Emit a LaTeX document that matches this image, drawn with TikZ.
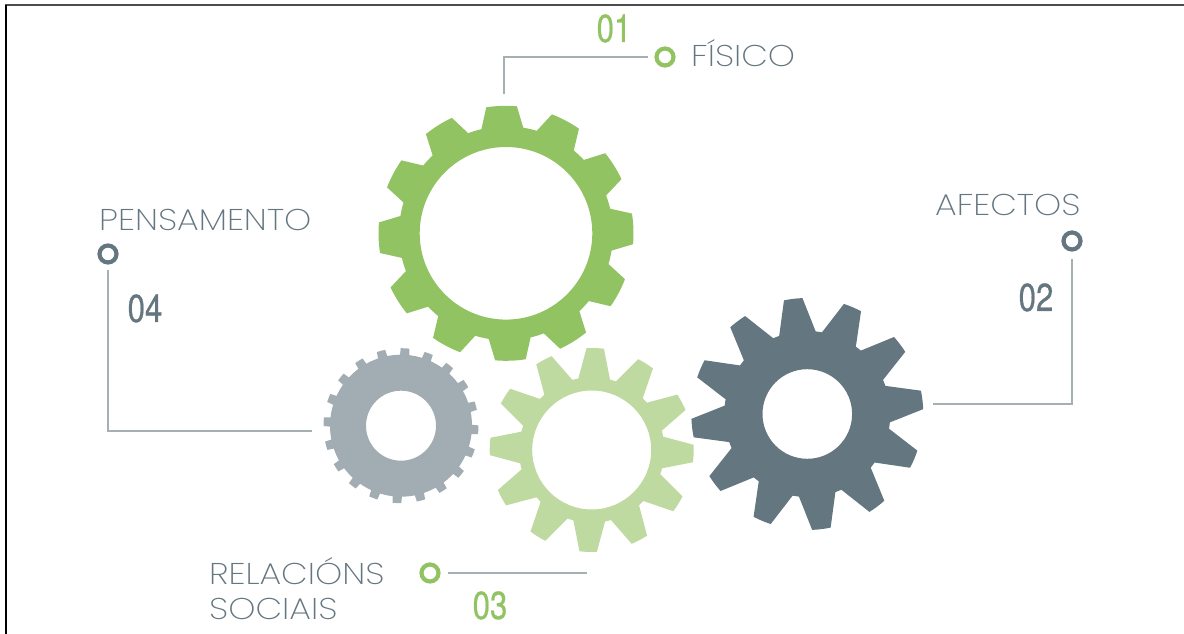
\documentclass[tikz,border=0pt]{standalone}
\usepackage{fontspec}
\setmainfont{Poppins}[UprightFont=* ExtraLight]
\newfontfamily\numfont{TeX Gyre Heros}[FakeBold=0.7]
\definecolor{gearA}{HTML}{92C362}
\definecolor{gearB}{HTML}{647680}
\definecolor{gearC}{HTML}{BEDAA0}
\definecolor{gearD}{HTML}{A2ADB3}
\definecolor{wire}{HTML}{A5B0B3}
\tikzset{
  ringgreen/.style={circle,draw=gearA,line width=4.2pt,fill=white,minimum size=17pt,inner sep=0pt},
  ringslate/.style={circle,draw=gearB,line width=4.2pt,fill=white,minimum size=17pt,inner sep=0pt},
  labeltext/.style={anchor=base west,inner sep=0pt,text=gearB,font=\fontsize{30}{30}\selectfont,xscale=1.15},
  numgreen/.style={anchor=base,inner sep=0pt,text=gearA,font=\numfont\fontsize{39}{39}\selectfont,xscale=.8},
  numslate/.style={anchor=base,inner sep=0pt,text=gearB,font=\numfont\fontsize{39}{39}\selectfont,xscale=.8},
  wireline/.style={draw=wire,line width=1.1pt}
}
% #1 colour, #2 centre, #3 teeth, #4 root, #5 tip, #6 hole, #7 phase, #8 half base, #9 half tip
\newcommand{\drawgear}[9]{
\begin{scope}[shift={#2}]
\pgfmathsetmacro{\gearstep}{360/#3}
\fill[#1,even odd rule] (#7+#8:#4)
  \foreach \n [evaluate=\n as \a using #7-\n*\gearstep] in {0,...,\numexpr#3-1\relax}{
    -- (\a+#9:#5) arc[start angle=\a+#9,end angle=\a-#9,radius=#5]
    -- (\a-#8:#4) arc[start angle=\a-#8,end angle=\a-\gearstep+#8,radius=#4]
  } -- cycle (0,0) circle (#6);
\end{scope}
}
\begin{document}
\begin{tikzpicture}[x=1pt,y=1pt]
\useasboundingbox (0,0) rectangle (1184,634);
% Frame
\draw[color=black!70,line width=1.6pt] (5,629) -- (1184,629);
\draw[color=black,line width=1.3pt] (6,0) -- (6,629);
% Gears
\drawgear{gearA}{(506,400.7)}{12}{107}{127.5}{86.3}{92}{11.3}{6.9}
\drawgear{gearB}{(807.3,220)}{12}{83}{116}{44.8}{97}{12.8}{4.6}
\drawgear{gearC}{(591.7,184)}{12}{72.7}{102}{59.5}{88}{12.6}{4.9}
\drawgear{gearD}{(401,208.3)}{20}{71}{77.5}{35}{87}{3.8}{3.2}
% Ring markers
\node[ringgreen] (ringA) at (665,577) {};
\node[ringslate] (ringB) at (1072,393) {};
\node[ringgreen] (ringC) at (430,61) {};
\node[ringslate] (ringD) at (108,380) {};
% Connector ends
\coordinate (gearAtop) at (504,540);
\coordinate (ringAin) at (648,577);
\coordinate (gearBright) at (933,230);
\coordinate (ringBin) at (1072,375);
\coordinate (gearCbot) at (587,61);
\coordinate (ringCin) at (448,61);
\coordinate (gearDleft) at (312,203);
\coordinate (ringDin) at (108,364);
% Connectors
\draw[wireline] (gearAtop) |- (ringAin);
\draw[wireline] (gearBright) -| (ringBin);
\draw[wireline] (gearCbot) -- (ringCin);
\draw[wireline] (gearDleft) -| (ringDin);
% Labels
\node[labeltext] (labelA) at (691,567) {FÍSICO};
\node[labeltext] (labelB) at (935,418) {AFECTOS};
\node[labeltext] (labelC) at (209,49) {RELACIÓNS};
\node[labeltext] (labelCb) at (209,14) {SOCIAIS};
\node[labeltext] (labelD) at (99,403) {PENSAMENTO};
% Numbers
\node[numgreen] (numA) at (614,592) {01};
\node[numslate] (numB) at (1036,323) {02};
\node[numgreen] (numC) at (490,15) {03};
\node[numslate] (numD) at (145,312) {04};
\end{tikzpicture}
\end{document}
